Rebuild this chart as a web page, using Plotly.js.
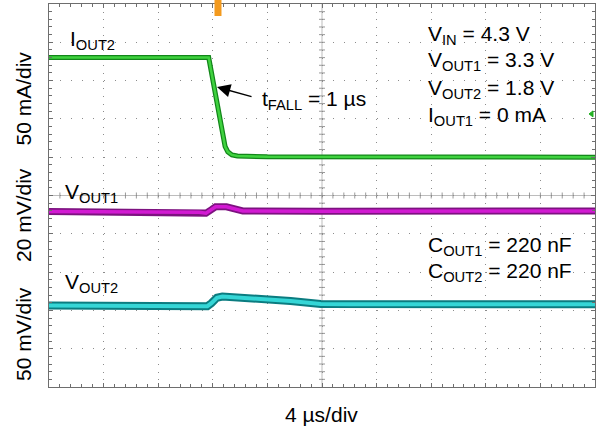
<!DOCTYPE html>
<html><head><meta charset="utf-8">
<script src="https://cdn.plot.ly/plotly-3.0.1.min.js"></script>
<style>html,body{margin:0;padding:0;background:#fff}#chart{width:600px;height:430px}</style>
</head><body><div id="chart"></div>
<script>
// time in µs (4 µs/div, 10 divisions)
const tIout2 = [0, 11.7, 12.9, 13.1, 13.4, 13.8, 16, 40];
const iout2 = [130, 130, 14, 7, 3, 1.5, 0.5, 0];            // mA
const tVout1 = [0, 11.0, 11.5, 11.9, 12.2, 13.0, 13.6, 14.2, 20, 40];
const vout1 = [0, -0.3, -0.8, 1.0, 2.5, 2.5, 1.5, 0.3, 0.2, 0.3]; // mV deviation
const tVout2 = [0, 11.3, 11.6, 11.9, 12.3, 12.7, 14.0, 15.5, 17.7, 19.9, 22, 25.7, 33, 40];
const vout2 = [0, 0, -1, 3, 10, 11.5, 10.4, 8.5, 5.9, 2.0, 1.5, 1.5, 1.5, 1.5]; // mV deviation

// channel scale (units/div) and screen offset (div)
const ch = {
  iout2: {scale: 50, offset: 6.0},
  vout1: {scale: 20, offset: 4.58},
  vout2: {scale: 50, offset: 2.13}
};
const toDiv = (arr, c) => arr.map(v => c.offset + v / c.scale);

const FONT = '"Liberation Sans", Arial, sans-serif';
function band(x, y, dark, bright, wOuter, wInner) {
  return [
    {x: x, y: y, mode: 'lines', line: {color: dark, width: wOuter}, hoverinfo: 'skip', showlegend: false},
    {x: x, y: y, mode: 'lines', line: {color: bright, width: wInner}, hoverinfo: 'skip', showlegend: false}
  ];
}
const traces = [].concat(
  band(tIout2, toDiv(iout2, ch.iout2), '#13861a', '#3fd23f', 5, 2.5),
  band(tVout1, toDiv(vout1, ch.vout1), '#7d1280', '#d21ad2', 7, 3.5),
  band(tVout2, toDiv(vout2, ch.vout2), '#0b7c80', '#35d6d6', 8, 4)
);

// decorations: centre crosshair with ticks
const shapes = [];
shapes.push({type: 'line', xref: 'paper', yref: 'y', x0: 0, x1: 1, y0: 5, y1: 5, line: {color: '#bdbdbd', width: 1}, layer: 'below'});
shapes.push({type: 'line', xref: 'x', yref: 'paper', x0: 20, x1: 20, y0: 0, y1: 1, line: {color: '#bdbdbd', width: 1}, layer: 'below'});
for (let k = 1; k < 50; k++) {
  shapes.push({type: 'line', xref: 'x', yref: 'y', xsizemode: 'scaled', ysizemode: 'pixel', yanchor: 5,
    x0: k * 0.8, x1: k * 0.8, y0: -3, y1: 3, line: {color: '#9a9a9a', width: 1}, layer: 'below'});
  shapes.push({type: 'line', xref: 'x', yref: 'y', xsizemode: 'pixel', xanchor: 20,
    y0: k * 0.2, y1: k * 0.2, x0: -3, x1: 3, line: {color: '#9a9a9a', width: 1}, layer: 'below'});
}
// trigger marker (top) and channel marker (right)
shapes.push({type: 'rect', xref: 'x', yref: 'paper', xsizemode: 'pixel', xanchor: 12.38, ysizemode: 'pixel', yanchor: 1,
  x0: -3.5, x1: 3.5, y0: -12, y1: 4, fillcolor: '#f39a1e', line: {width: 0}});
shapes.push({type: 'path', xref: 'paper', yref: 'y', xsizemode: 'pixel', xanchor: 1, ysizemode: 'pixel', yanchor: 7.13,
  path: 'M-6,0 L-2,-3 L-2,3 Z', fillcolor: '#22b022', line: {color: '#22b022', width: 1}});

const fs = 21;
const px2xp = p => (p - 49) / 546;
const px2yp = p => (387 - p) / 383;
function lab(text, xpx, ypx, anchor) {
  return {text: text, xref: 'paper', yref: 'paper', x: px2xp(xpx), y: px2yp(ypx), xanchor: anchor || 'left', yanchor: 'middle',
    showarrow: false, font: {family: FONT, size: fs, color: '#000'}};
}
function vlab(text, ypx) {
  return {text: text, xref: 'paper', yref: 'paper', x: px2xp(23), y: px2yp(ypx), xanchor: 'center', yanchor: 'middle',
    textangle: -90, showarrow: false, font: {family: FONT, size: fs, color: '#000'}};
}
const annotations = [
  lab('I<sub>OUT2</sub>', 68, 40),
  lab('V<sub>OUT1</sub>', 63, 193),
  lab('V<sub>OUT2</sub>', 63, 283),
  lab('t<sub>FALL</sub> = 1 µs', 260, 100),
  lab('V<sub>IN</sub> = 4.3 V', 426, 35),
  lab('V<sub>OUT1</sub> = 3.3 V', 426, 61),
  lab('V<sub>OUT2</sub> = 1.8 V', 426, 89),
  lab('I<sub>OUT1</sub> = 0 mA', 426, 116),
  lab('C<sub>OUT1</sub> = 220 nF', 426, 246),
  lab('C<sub>OUT2</sub> = 220 nF', 426, 272),
  lab('4 µs/div', 321, 414, 'center'),
  vlab('50 mA/div', 98.5),
  vlab('20 mV/div', 215),
  vlab('50 mV/div', 334),
  {x: 12.31, y: 7.83, xref: 'x', yref: 'y', text: '', showarrow: true, arrowhead: 2, arrowsize: 1.9, arrowwidth: 1.4,
    arrowcolor: '#000', axref: 'pixel', ayref: 'pixel', ax: 36, ay: 10, standoff: 0}
];

const axBase = {showgrid: true, gridcolor: '#8c8c8c', gridwidth: 1, zeroline: false, showline: true, linecolor: '#6e6e6e', linewidth: 1,
  mirror: 'allticks', ticks: 'inside', ticklen: 4, tickcolor: '#6e6e6e', showticklabels: false, fixedrange: true};
const layout = {
  width: 600, height: 430,
  margin: {l: 49, r: 5, t: 4, b: 43, pad: 0},
  paper_bgcolor: '#fff', plot_bgcolor: '#fff',
  showlegend: false,
  xaxis: Object.assign({}, axBase, {range: [0, 40], dtick: 4, tick0: 0, griddash: '1px,6.66px',
    minor: {dtick: 0.8, tick0: 0, ticks: 'inside', ticklen: 3, tickcolor: '#6e6e6e', showgrid: false}}),
  yaxis: Object.assign({}, axBase, {range: [0, 10], dtick: 1, tick0: 0, griddash: '1px,9.92px',
    minor: {dtick: 0.2, tick0: 0, ticks: 'inside', ticklen: 3, tickcolor: '#6e6e6e', showgrid: false}}),
  shapes: shapes,
  annotations: annotations,
  font: {family: FONT}
};
Plotly.newPlot('chart', traces, layout, {displayModeBar: false, staticPlot: true});
</script>
</body></html>
